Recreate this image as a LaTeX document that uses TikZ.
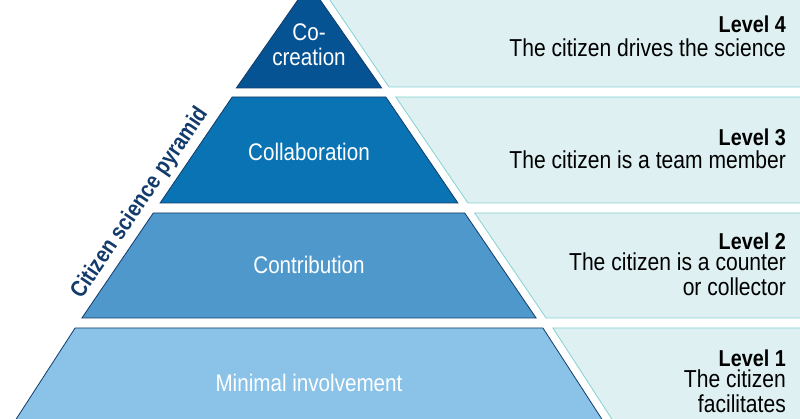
\documentclass[tikz,border=0pt]{standalone}
\usepackage{fontspec}
\setmainfont{Liberation Sans}[FakeStretch=0.86]
\begin{document}
\begin{tikzpicture}[x=1pt,y=-1pt,
  layer/.style={line width=0.8pt},
  panel/.style={line width=0.8pt},
  lab/.style={text=white,font=\fontsize{24}{25}\selectfont,align=center,inner sep=0pt},
  lvl/.style={anchor=east,font=\bfseries\fontsize{23}{26}\selectfont,inner sep=0pt},
  desc/.style={anchor=east,align=right,font=\fontsize{24.5}{24.5}\selectfont,inner sep=0pt}]
\definecolor{c4}{HTML}{065394}
\definecolor{c3}{HTML}{0A73B3}
\definecolor{c2}{HTML}{4E98CC}
\definecolor{c1}{HTML}{8AC3E7}
\definecolor{pf}{HTML}{DEF0F1}
\definecolor{pb}{HTML}{86D2D2}
\definecolor{nav}{HTML}{123B6B}
\useasboundingbox (0,0) rectangle (800,419);
\clip (0,0) rectangle (800,419);
% panels
\draw[panel,fill=pf,draw=pb] (326.5,-5) -- (389,87) -- (810,87) -- (810,-5) -- cycle;
\draw[panel,fill=pf,draw=pb] (395.8,97) -- (467.9,203) -- (810,203) -- (810,97) -- cycle;
\draw[panel,fill=pf,draw=pb] (474.7,213) -- (546.1,318) -- (810,318) -- (810,213) -- cycle;
\draw[panel,fill=pf,draw=pb] (552.9,328) -- (618.9,430) -- (810,430) -- (810,328) -- cycle;
% layers
\draw[layer,draw=nav,fill=c4] (309,-16) -- (381.7,88) -- (236.3,88) -- cycle;
\draw[layer,draw=nav,fill=c3] (232.2,97) -- (385.8,97) -- (457.9,203) -- (160.1,203) -- cycle;
\draw[layer,draw=nav,fill=c2] (153.3,213) -- (464.7,213) -- (536.1,318) -- (81.9,318) -- cycle;
\draw[layer,draw=nav,fill=c1] (75.1,328) -- (542.9,328) -- (608.9,430) -- (9.1,430) -- cycle;
% pyramid labels
\node[lab] (l4) at (309,45) {Co-\\creation};
\node[lab] (l3) at (309,152) {Collaboration};
\node[lab] (l2) at (309,265) {Contribution};
\node[lab] (l1) at (309,383) {Minimal involvement};
\node[rotate=55.8,text=nav,inner sep=0pt,font=\bfseries\fontsize{23}{24}\selectfont] (t) at (140,203) {Citizen science pyramid};
% right texts
\node[lvl] (v4) at (786,24) {Level 4};
\node[desc] (d4) at (786,48) {The citizen drives the science};
\node[lvl] (v3) at (786,137) {Level 3};
\node[desc] (d3) at (786,160) {The citizen is a team member};
\node[lvl] (v2) at (786,241) {Level 2};
\node[desc,anchor=north east] (d2) at (786,253) {The citizen is a counter\\or collector};
\node[lvl] (v1) at (786,358) {Level 1};
\node[desc,anchor=north east] (d1) at (786,370) {The citizen\\facilitates};
\end{tikzpicture}
\end{document}
